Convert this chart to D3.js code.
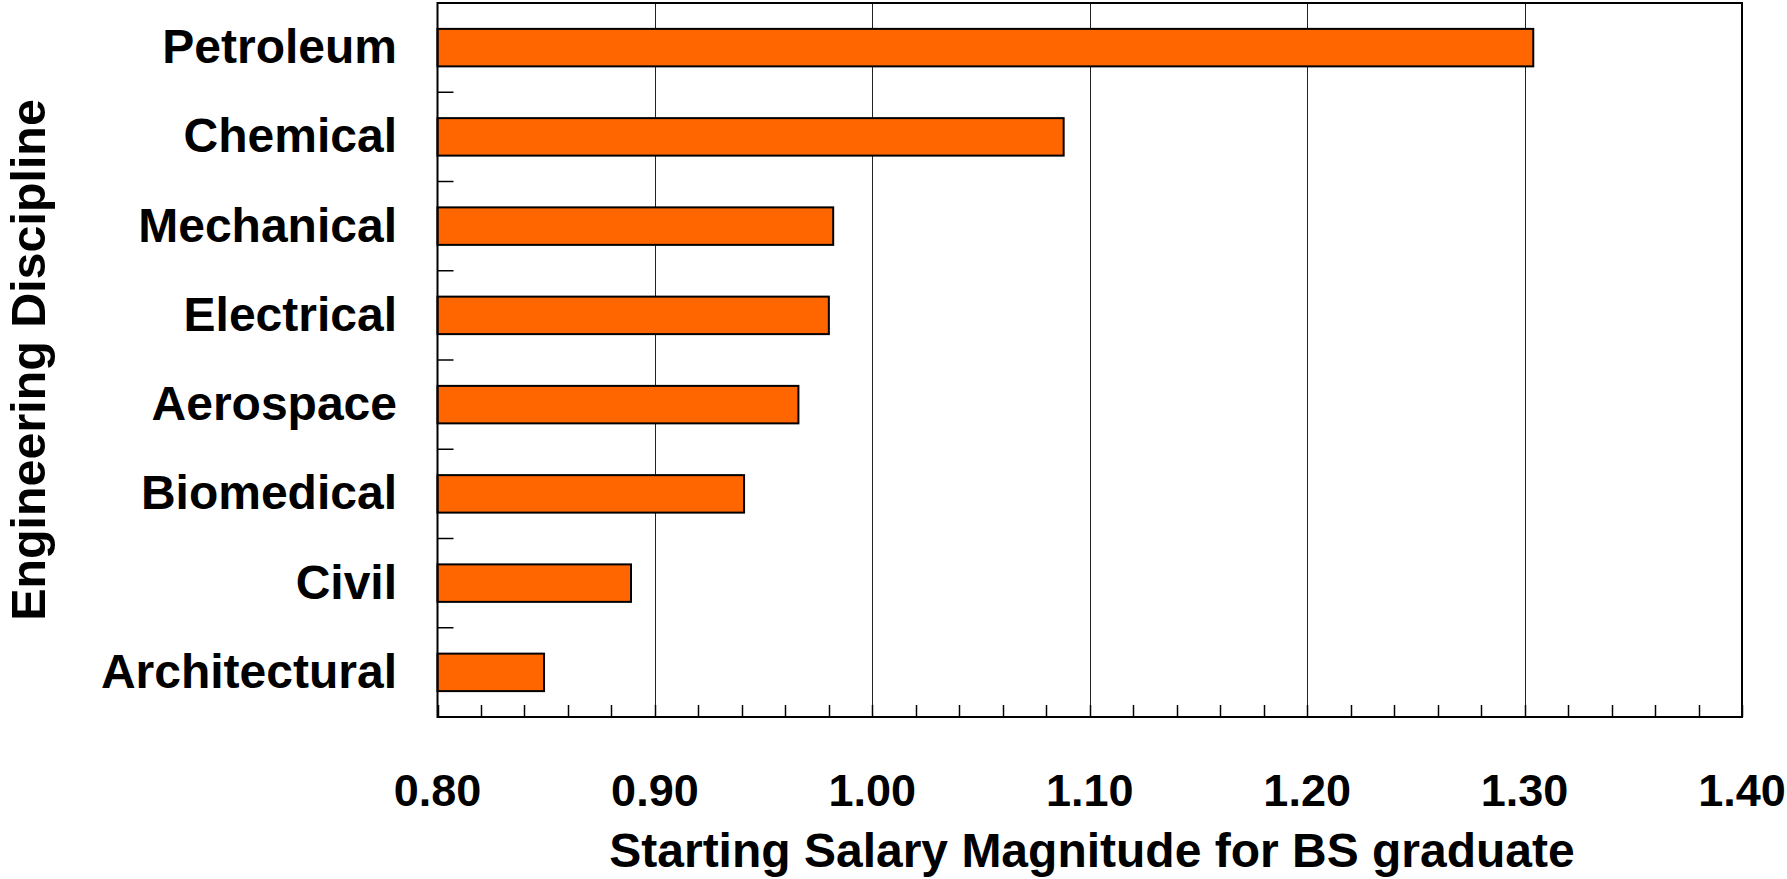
<!DOCTYPE html>
<html>
<head>
<meta charset="utf-8">
<script src="https://cdn.jsdelivr.net/npm/d3@7"></script>
<style>
  html, body { margin: 0; padding: 0; background: #ffffff; }
  svg { display: block; font-family: "Liberation Sans", Arial, sans-serif; }
</style>
</head>
<body>
<svg id="chart" width="1787" height="879"></svg>
<script>
const categories = ["Petroleum", "Chemical", "Mechanical", "Electrical", "Aerospace", "Biomedical", "Civil", "Architectural"];
const salaryMagnitude = [1.304, 1.088, 0.982, 0.980, 0.966, 0.941, 0.889, 0.849];
const xTickValues = [0.80, 0.90, 1.00, 1.10, 1.20, 1.30, 1.40];
const xTitle = "Starting Salary Magnitude for BS graduate";
const yTitle = "Engineering Discipline";

const svg = d3.select("#chart");
const pLeft = 437.5, pTop = 3, pRight = 1742, pBottom = 717;

const x = d3.scaleLinear().domain([0.80, 1.40]).range([pLeft, pRight]);
const y = d3.scaleBand().domain(categories).range([pTop, pBottom])
  .paddingInner(0.58).paddingOuter(0.29);
const yStep = y.step();

// gridlines at major ticks
svg.append("g").selectAll("line")
  .data(xTickValues.slice(1, -1))
  .join("line")
  .attr("x1", d => Math.round(x(d)) + 0.5).attr("x2", d => Math.round(x(d)) + 0.5)
  .attr("y1", pTop).attr("y2", pBottom)
  .attr("stroke", "#222").attr("stroke-width", 1);

// minor ticks on bottom axis (every 0.02)
const minor = d3.range(0, 31).map(i => 0.80 + i * 0.02);
svg.append("g").selectAll("line")
  .data(minor)
  .join("line")
  .attr("x1", d => Math.round(x(d)) + 0.5).attr("x2", d => Math.round(x(d)) + 0.5)
  .attr("y1", pBottom).attr("y2", pBottom - 12)
  .attr("stroke", "#000").attr("stroke-width", 1.5);

// category separator ticks on left axis
svg.append("g").selectAll("line")
  .data(categories.slice(1))
  .join("line")
  .attr("x1", pLeft).attr("x2", pLeft + 16)
  .attr("y1", d => y(d) - (yStep - y.bandwidth()) / 2)
  .attr("y2", d => y(d) - (yStep - y.bandwidth()) / 2)
  .attr("stroke", "#000").attr("stroke-width", 1.5);

// bars
svg.append("g").selectAll("rect")
  .data(categories.map((c, i) => ({ c, v: salaryMagnitude[i] })))
  .join("rect")
  .attr("x", x(0.80))
  .attr("y", d => y(d.c))
  .attr("width", d => x(d.v) - x(0.80))
  .attr("height", y.bandwidth())
  .attr("fill", "#FF6600")
  .attr("stroke", "#000").attr("stroke-width", 2);

// frame
svg.append("rect")
  .attr("x", pLeft).attr("y", pTop)
  .attr("width", pRight - pLeft).attr("height", pBottom - pTop)
  .attr("fill", "none").attr("stroke", "#000").attr("stroke-width", 2);

// x tick labels
svg.append("g").selectAll("text")
  .data(xTickValues)
  .join("text")
  .attr("x", d => x(d)).attr("y", 806)
  .attr("text-anchor", "middle")
  .attr("font-size", 45).attr("font-weight", "bold")
  .text(d => d3.format(".2f")(d));

// category labels
svg.append("g").selectAll("text")
  .data(categories)
  .join("text")
  .attr("x", 397)
  .attr("y", d => y(d) + y.bandwidth() / 2 + 15.5)
  .attr("text-anchor", "end")
  .attr("font-size", 48).attr("font-weight", "bold")
  .text(d => d);

// axis titles
svg.append("text")
  .attr("x", 1092).attr("y", 867)
  .attr("text-anchor", "middle")
  .attr("font-size", 48).attr("font-weight", "bold")
  .text(xTitle);

svg.append("text")
  .attr("transform", `translate(45, ${(pTop + pBottom) / 2}) rotate(-90)`)
  .attr("text-anchor", "middle")
  .attr("font-size", 48.4).attr("font-weight", "bold")
  .text(yTitle);
</script>
</body>
</html>
